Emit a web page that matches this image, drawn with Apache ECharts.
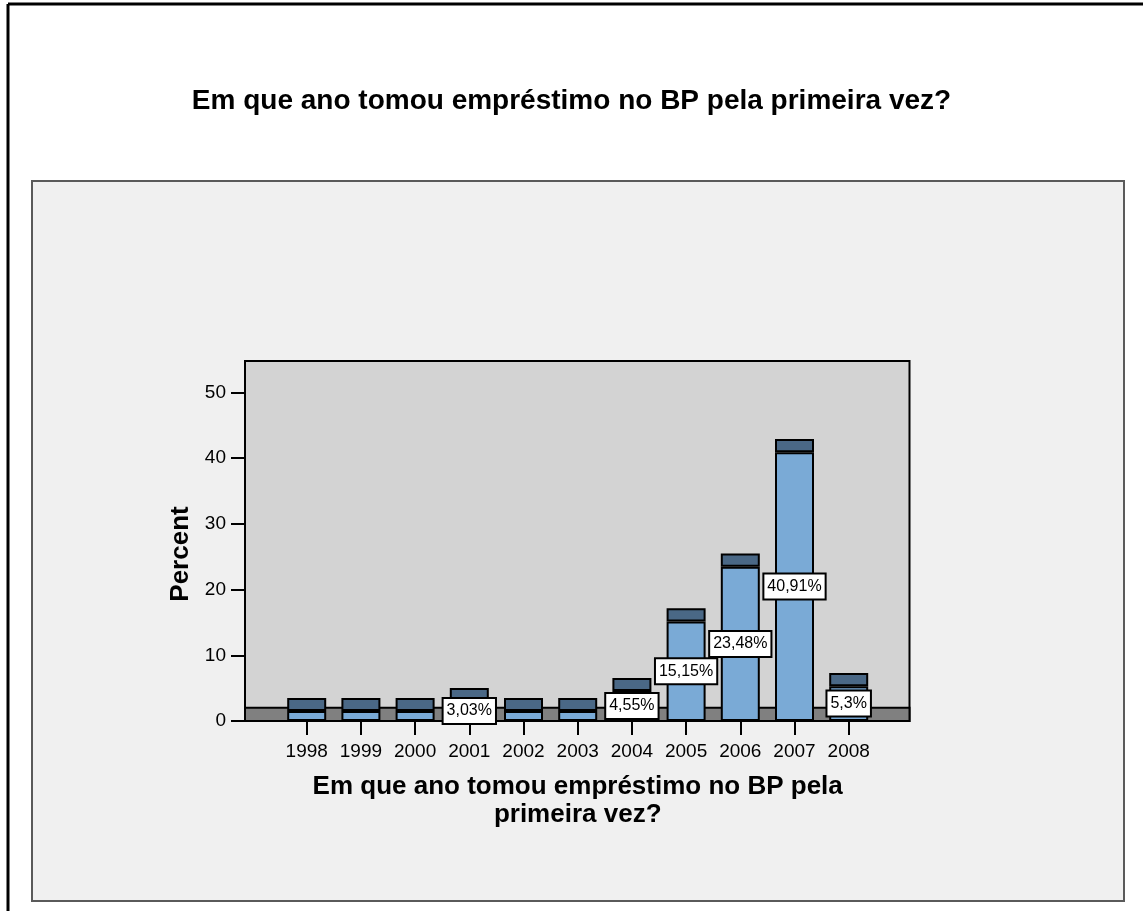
<!DOCTYPE html>
<html>
<head>
<meta charset="utf-8">
<script src="https://cdn.jsdelivr.net/npm/echarts@6/dist/echarts.min.js"></script>
<style>
  html, body { margin: 0; padding: 0; background: #ffffff; }
  #chart { width: 1143px; height: 911px; }
</style>
</head>
<body>
<div id="chart"></div>
<script>
// Year of first loan, share of respondents (%)
const years = ['1998', '1999', '2000', '2001', '2002', '2003', '2004', '2005', '2006', '2007', '2008'];
const percents = [1.52, 1.52, 1.52, 3.03, 1.52, 1.52, 4.55, 15.15, 23.48, 40.91, 5.3];
const showValueLabel = [false, false, false, true, false, false, true, true, true, true, true];
const yTicks = [0, 10, 20, 30, 40, 50];

const titleText = 'Em que ano tomou empréstimo no BP pela primeira vez?';
const xTitle = 'Em que ano tomou empréstimo no BP pela\nprimeira vez?';
const yTitle = 'Percent';

// Apparent depth of the pseudo-3D bar tops and floor, in axis units
const DEPTH = 2;
const Y_MAX = 54.8;

const FONT = 'Arial, "Liberation Sans", Helvetica, sans-serif';

const chart = echarts.init(document.getElementById('chart'), null, { renderer: 'canvas' });

const fmt = v => String(v).replace('.', ',') + '%';

chart.setOption({
  animation: false,
  backgroundColor: '#ffffff',
  textStyle: { fontFamily: FONT },
  title: {
    text: titleText,
    left: 'center',
    top: 82,
    textStyle: { fontSize: 28, fontWeight: 'bold', color: '#000', fontFamily: FONT }
  },
  graphic: [
    // outer frame (top and left edges)
    { type: 'line', z: -10, shape: { x1: 8, y1: 4, x2: 1143, y2: 4 }, style: { stroke: '#000', lineWidth: 3 } },
    { type: 'line', z: -10, shape: { x1: 8, y1: 4, x2: 8, y2: 911 }, style: { stroke: '#000', lineWidth: 3 } },
    // chart panel
    { type: 'rect', z: -10, shape: { x: 32, y: 181, width: 1092, height: 720 },
      style: { fill: '#f0f0f0', stroke: '#5a5a5a', lineWidth: 2 } }
  ],
  grid: [
    // bar grid: category bands
    { left: 279.6, right: 267.2, top: 361, bottom: 190 },
    // plot frame
    { left: 245, right: 233.5, top: 361, bottom: 190, show: true,
      backgroundColor: '#d3d3d3', borderColor: '#000', borderWidth: 2 }
  ],
  xAxis: [
    {
      gridIndex: 0, type: 'category', data: years,
      axisLine: { show: false },
      axisTick: { show: true, alignWithLabel: true, interval: 0, length: 14, lineStyle: { color: '#000', width: 2 } },
      axisLabel: { color: '#000', fontSize: 19, margin: 21, interval: 0, fontFamily: FONT },
      name: xTitle, nameLocation: 'middle', nameGap: 52,
      nameTextStyle: { fontSize: 26, fontWeight: 'bold', color: '#000', lineHeight: 28, fontFamily: FONT }
    },
    {
      gridIndex: 1, type: 'value', min: 0, max: 1,
      axisLine: { show: false }, axisTick: { show: false }, axisLabel: { show: false }, splitLine: { show: false }
    }
  ],
  yAxis: [
    {
      gridIndex: 0, type: 'value', min: 0, max: Y_MAX,
      axisLine: { show: false }, axisTick: { show: false }, axisLabel: { show: false }, splitLine: { show: false }
    },
    {
      gridIndex: 1, type: 'value', min: 0, max: Y_MAX,
      axisLine: { show: true, lineStyle: { color: '#000', width: 2 } },
      axisTick: { show: true, length: 14, customValues: yTicks, lineStyle: { color: '#000', width: 2 } },
      axisLabel: { color: '#000', fontSize: 19, margin: 19, customValues: yTicks, fontFamily: FONT },
      splitLine: { show: false },
      name: yTitle, nameLocation: 'middle', nameGap: 51, nameRotate: 90,
      nameTextStyle: { fontSize: 26, fontWeight: 'bold', color: '#000', fontFamily: FONT,
        padding: [0, 26, 0, 0] }
    }
  ],
  series: [
    // floor band of the plot
    {
      type: 'line', xAxisIndex: 1, yAxisIndex: 1, z: 1, data: [], silent: true,
      markArea: {
        silent: true,
        itemStyle: { color: '#808080', borderColor: '#000', borderWidth: 2 },
        data: [[{ yAxis: 0 }, { yAxis: DEPTH }]]
      }
    },
    // bar fronts
    {
      type: 'bar', xAxisIndex: 0, yAxisIndex: 0, stack: 'bar', z: 4,
      barWidth: 39,
      data: percents.map((v, i) => ({
        value: v,
        label: { show: showValueLabel[i] }
      })),
      itemStyle: { color: '#7aaad6', borderColor: '#000', borderWidth: 2 },
      label: {
        position: 'inside',
        formatter: p => fmt(p.value),
        color: '#000', fontSize: 16, fontFamily: FONT,
        backgroundColor: '#ffffff', borderColor: '#000', borderWidth: 2,
        padding: [4, 3, 4, 3]
      }
    },
    // bar tops (depth face)
    {
      type: 'bar', xAxisIndex: 0, yAxisIndex: 0, stack: 'bar', z: 3,
      barWidth: 39,
      data: years.map(() => DEPTH),
      itemStyle: { color: '#4a6886', borderColor: '#000', borderWidth: 2 },
      label: { show: false }
    }
  ]
});
</script>
</body>
</html>
